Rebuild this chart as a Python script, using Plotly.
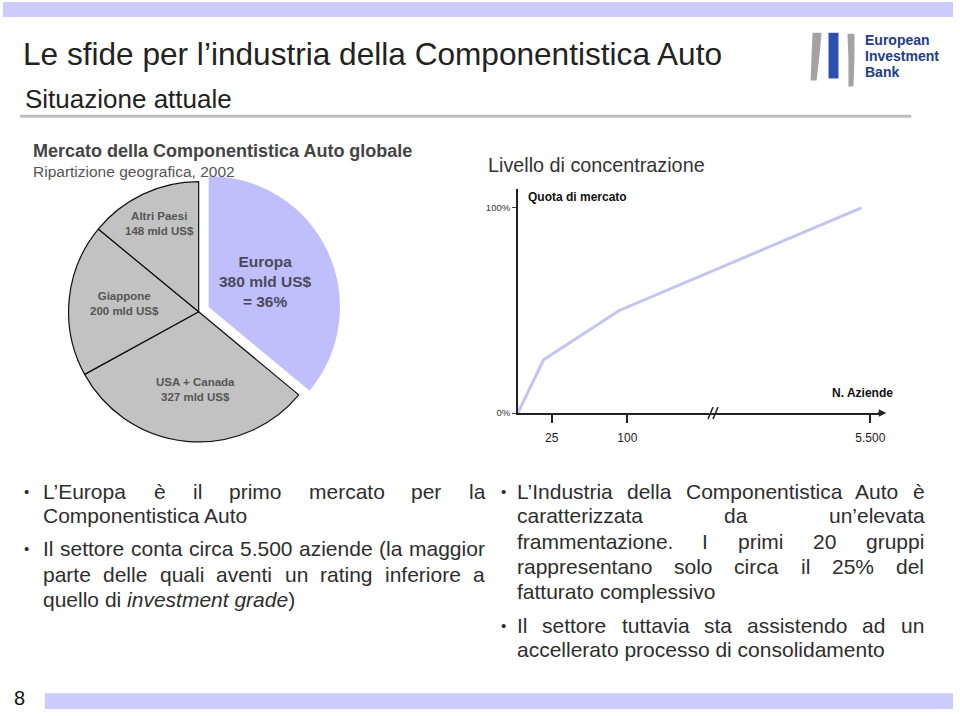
import plotly.graph_objects as go
import numpy as np

W, H = 960, 716
FONT = "Liberation Sans, Arial, Helvetica, sans-serif"

# ---------------- data ----------------
regions = ["Europa", "USA + Canada", "Giappone", "Altri Paesi"]
market_bn = [380, 327, 200, 148]

n_aziende = [0, 19, 92, 5300]          # number of companies (cumulative)
quota_pct = [0, 26, 50, 100]           # cumulative market share (%)
x_tick_values = [25, 100, 5500]
x_tick_labels = ["25", "100", "5.500"]
y_tick_values = [0, 100]
y_tick_labels = ["0%", "100%"]

# schematic (broken) x axis: real value -> axis position
brk_n = [0, 25, 100, 5500]
brk_pos = [0, 34, 110, 354]


def to_axis(v):
    return np.interp(v, brk_n, brk_pos)


def fx(x):
    return x / W


def fy(y):
    return 1 - y / H


fig = go.Figure()

# ---------------- pie ----------------
total = sum(market_bn)
pie_cx, pie_cy, pie_r, pull = 199.5, 314, 131, 0.09
half = pie_r * (1 + pull)
fig.add_trace(go.Pie(
    labels=regions, values=market_bn, sort=False, direction="clockwise",
    rotation=0, pull=[pull, 0, 0, 0], textinfo="none", hoverinfo="label+value",
    marker=dict(colors=["#BFBFFB", "#C2C2C2", "#C2C2C2", "#C2C2C2"],
                line=dict(color=["#BFBFFB", "#111111", "#111111", "#111111"], width=1.2)),
    domain=dict(x=[fx(pie_cx - half), fx(pie_cx + half)],
                y=[fy(pie_cy + half), fy(pie_cy - half)]),
    showlegend=False, automargin=False,
))

# ---------------- concentration line ----------------
fig.add_trace(go.Scatter(
    x=to_axis(n_aziende), y=quota_pct, mode="lines",
    line=dict(color="#C4C4F4", width=3), showlegend=False,
    cliponaxis=False, hoverinfo="skip",
))

y_top_px, y0_px, y100_px = 190, 416, 209.3
fig.update_layout(
    xaxis=dict(domain=[fx(520), fx(885)], range=[0, 365], showgrid=False,
               zeroline=False, showline=True, linecolor="#222222", linewidth=1.5,
               tickmode="array", tickvals=list(to_axis(x_tick_values)),
               ticktext=x_tick_labels, ticks="outside", ticklen=8,
               tickwidth=1.5, tickcolor="#222222", ticklabelstandoff=5,
               tickfont=dict(size=12, color="#222222", family=FONT),
               fixedrange=True),
    yaxis=dict(domain=[fy(y0_px), fy(y_top_px)],
               range=[0, 100 * (y0_px - y_top_px) / (y0_px - y100_px)],
               showgrid=False, zeroline=False, showline=True,
               linecolor="#222222", linewidth=1.5, tickmode="array",
               tickvals=y_tick_values, ticktext=y_tick_labels, ticks="outside",
               ticklen=4, tickwidth=1, tickcolor="#444444",
               tickfont=dict(size=9.5, color="#333333", family=FONT),
               fixedrange=True),
)

shapes = []
annotations = []
DY = 2.5  # text vertical offset


def ann(text, x, y, size, color="#333333", xanchor="left", yanchor="middle",
        align="left", **kw):
    annotations.append(dict(
        text=text, x=fx(x), y=fy(y + DY), xref="paper", yref="paper",
        xanchor=xanchor, yanchor=yanchor, align=align, showarrow=False,
        borderpad=0, borderwidth=0,
        font=dict(size=size, color=color, family=kw.pop("family", FONT)), **kw))


def rect(x0, y0, x1, y1, color):
    shapes.append(dict(type="rect", xref="paper", yref="paper",
                       x0=fx(x0), x1=fx(x1), y0=fy(y1), y1=fy(y0),
                       fillcolor=color, line=dict(width=0), layer="below"))


def poly(points, color):
    path = "M " + " L ".join(f"{fx(x):.5f},{fy(y):.5f}" for x, y in points) + " Z"
    shapes.append(dict(type="path", xref="paper", yref="paper", path=path,
                       fillcolor=color, line=dict(width=0)))


def seg(x0, y0, x1, y1, color, width):
    shapes.append(dict(type="line", xref="paper", yref="paper",
                       x0=fx(x0), y0=fy(y0), x1=fx(x1), y1=fy(y1),
                       line=dict(color=color, width=width)))


# slide frame
rect(3, 2, 957, 17, "#CCCCFF")
rect(20, 115.5, 915, 118.5, "#BDBDBD")
rect(45, 698, 957, 714, "#CCCCFF")
ann("8", 14, 700, 20, "#111111")

# logo
poly([(816, 33), (825, 33), (823, 55), (820, 81), (814, 81), (815, 55)], "#A3A3A3")
poly([(832, 33), (842, 33), (842, 79), (832, 79)], "#2B50B0")
poly([(851, 34), (858, 34), (858, 60), (857, 87), (852, 87), (852, 60)], "#A3A3A3")
ann("<b>European</b>", 869, 38, 14, "#1E3C8C")
ann("<b>Investment</b>", 869, 54, 14, "#1E3C8C")
ann("<b>Bank</b>", 869, 70, 14, "#1E3C8C")

# titles
ann("Le sfide per l\u2019industria della Componentistica Auto", 23, 52, 31.6, "#222222")
ann("Situazione attuale", 25, 97, 26, "#222222")
ann("<b>Mercato della Componentistica Auto globale</b>", 33, 150, 18, "#444444")
ann("Ripartizione geografica, 2002", 33, 170, 15.5, "#555555")
ann("Livello di concentrazione", 490, 164, 19.8, "#333333")

# pie labels (built from the data)
pct_eu = 100 * market_bn[0] / total
ann(f"<b>{regions[0]}<br>{market_bn[0]} mld US$<br>= {pct_eu:.0f}%</b>",
    266.5, 281, 15.5, "#4A4A5C", xanchor="center", align="center")
pie_label_pos = {"USA + Canada": (196, 390), "Giappone": (125, 303),
                 "Altri Paesi": (160, 223)}
for name, val in zip(regions[1:], market_bn[1:]):
    px_, py_ = pie_label_pos[name]
    ann(f"<b>{name}<br>{val} mld US$</b>", px_, py_, 11.5, "#555555",
        xanchor="center", align="center")

# line chart labels
ann("<b>Quota di mercato</b>", 530, 196, 12, "#111111")
ann("<b>N. Aziende</b>", 835, 393, 12, "#111111")
annotations.append(dict(x=fx(890), y=fy(416), xref="paper", yref="paper",
                        ax=-10, ay=0, text="", showarrow=True, arrowhead=2,
                        arrowsize=1, arrowwidth=1.5, arrowcolor="#222222"))
seg(711, 422, 716, 410, "#222222", 1.5)
seg(716, 422, 721, 410, "#222222", 1.5)

# bullet text with justification (Arial/Liberation metrics)
CW = {' ': 278, '!': 278, "'": 191, '(': 333, ')': 333, ',': 278, '-': 333,
      '.': 278, '%': 889, ':': 278, '\u2019': 222, '\u00e8': 556}
for c in '0123456789':
    CW[c] = 556
CW.update(dict(zip("ABCDEFGHIJKLMNOPQRSTUVWXYZ",
                   [667, 667, 722, 722, 667, 611, 778, 722, 278, 500, 667, 556, 833,
                    722, 778, 667, 778, 722, 667, 611, 722, 667, 944, 667, 667, 611])))
CW.update(dict(zip("abcdefghijklmnopqrstuvwxyz",
                   [556, 556, 500, 556, 556, 278, 556, 556, 222, 222, 500, 222, 833,
                    556, 556, 556, 556, 333, 500, 278, 556, 500, 722, 500, 500, 500])))
BS = 21
TXT = "#2E2E2E"


def tw(s):
    return sum(CW.get(c, 556) for c in s) * BS / 1000


def line(text, x0, x1, y, justify):
    if not justify:
        ann(text, x0, y, BS, TXT)
        return
    words = text.split(" ")
    widths = [tw(w) for w in words]
    gap = (x1 - x0 - sum(widths)) / (len(words) - 1)
    x = x0
    for w, wd in zip(words, widths):
        ann(w, x, y, BS, TXT)
        x += wd + gap


left_lines = [
    ("L\u2019Europa \u00e8 il primo mercato per la", 492, True, True),
    ("Componentistica Auto", 517, False, False),
    ("Il settore conta circa 5.500 aziende (la maggior", 550, True, True),
    ("parte delle quali aventi un rating inferiore a", 576, True, False),
    ("quello di <i>investment grade</i>)", 601, False, False),
]
right_lines = [
    ("L\u2019Industria della Componentistica Auto \u00e8", 492, True, True),
    ("caratterizzata da un\u2019elevata", 517, True, False),
    ("frammentazione. I primi 20 gruppi", 543, True, False),
    ("rappresentano solo circa il 25% del", 568, True, False),
    ("fatturato complessivo", 593, False, False),
    ("Il settore tuttavia sta assistendo ad un", 627, True, True),
    ("accellerato processo di consolidamento", 652, False, False),
]
for text, y, just, bullet in left_lines:
    line(text, 43, 487, y, just)
    if bullet:
        ann("\u2022", 27, y, 15, TXT, xanchor="center")
for text, y, just, bullet in right_lines:
    line(text, 519, 928, y, just)
    if bullet:
        ann("\u2022", 506, y, 15, TXT, xanchor="center")

fig.update_layout(
    width=W, height=H, margin=dict(l=0, r=0, t=0, b=0),
    paper_bgcolor="white", plot_bgcolor="white",
    shapes=shapes, annotations=annotations, showlegend=False,
    font=dict(family=FONT),
)

fig.write_html("out.html")
